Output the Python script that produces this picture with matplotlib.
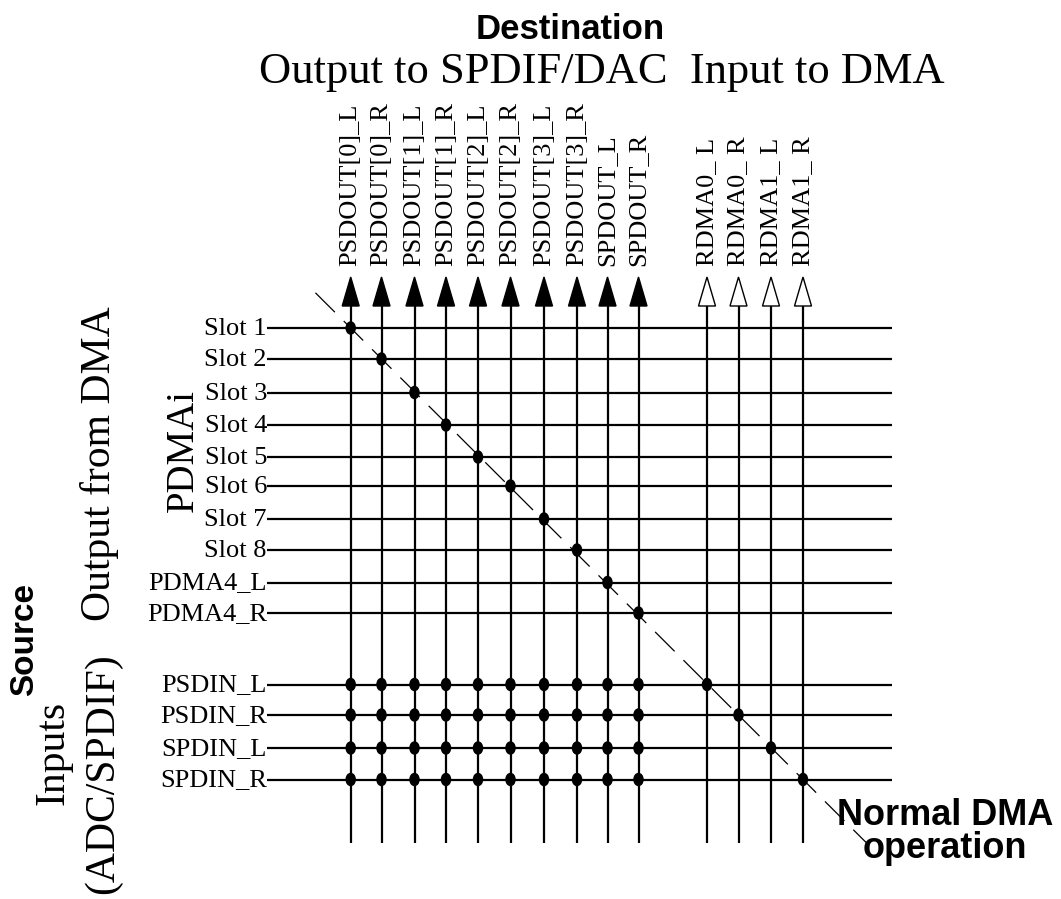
import matplotlib
matplotlib.use("Agg")
import matplotlib.pyplot as plt
from matplotlib.patches import Polygon, Ellipse

# ---------------- data ----------------
sources = ["Slot 1", "Slot 2", "Slot 3", "Slot 4", "Slot 5", "Slot 6", "Slot 7",
           "Slot 8", "PDMA4_L", "PDMA4_R", "PSDIN_L", "PSDIN_R", "SPDIN_L", "SPDIN_R"]
destinations = ["PSDOUT[0]_L", "PSDOUT[0]_R", "PSDOUT[1]_L", "PSDOUT[1]_R",
                "PSDOUT[2]_L", "PSDOUT[2]_R", "PSDOUT[3]_L", "PSDOUT[3]_R",
                "SPDOUT_L", "SPDOUT_R", "RDMA0_ L", "RDMA0_ R", "RDMA1_ L", "RDMA1_ R"]
dest_kind = ["out"] * 10 + ["dma"] * 4          # filled arrow = output, hollow = DMA
# destination indices each source can be routed to
links = [
    [0], [1], [2], [3], [4], [5], [6], [7], [8], [9],
    [0, 1, 2, 3, 4, 5, 6, 7, 8, 9, 10],
    [0, 1, 2, 3, 4, 5, 6, 7, 8, 9, 11],
    [0, 1, 2, 3, 4, 5, 6, 7, 8, 9, 12],
    [0, 1, 2, 3, 4, 5, 6, 7, 8, 9, 13],
]

# ---------------- layout (pixel space) ----------------
W, H = 1061, 899
col_x = [350.7, 381.5, 414.5, 446, 478, 510.5, 544, 577, 607.5, 638.5,
         707, 738.5, 771, 803]
row_y = [328, 359, 392.5, 425, 457, 486, 519, 550, 582.5, 613,
         684.5, 715, 748, 779.5]
h_start, h_end = 267, 892
v_top, v_bottom = 306, 843
tip_y = 277
arrow_half = 8.5
label_bottom = 266

serif = "Liberation Serif"
sans = "Liberation Sans"
LW = 1.6

fig = plt.figure(figsize=(W / 100, H / 100), dpi=100)
ax = fig.add_axes([0, 0, 1, 1])
ax.set_xlim(0, W)
ax.set_ylim(H, 0)
ax.axis("off")

# horizontal source lines and labels
for name, y in zip(sources, row_y):
    ax.plot([h_start, h_end], [y, y], color="black", lw=LW, solid_capstyle="butt")
    ax.text(h_start, y + 7, name, ha="right", va="baseline",
            fontsize=19, family=serif)

# vertical destination lines, arrowheads and labels
for name, x, kind in zip(destinations, col_x, dest_kind):
    ax.plot([x, x], [v_top, v_bottom], color="black", lw=LW, solid_capstyle="butt")
    tri = Polygon([[x, tip_y], [x - arrow_half, v_top], [x + arrow_half, v_top]],
                  closed=True, facecolor="black" if kind == "out" else "white",
                  edgecolor="black", lw=1.0, zorder=3)
    ax.add_patch(tri)
    ax.text(x, label_bottom, name, rotation=90, ha="center", va="bottom",
            fontsize=19, family=serif)

# dashed "normal DMA operation" diagonal through the diagonal connections
x0, y0 = col_x[0], row_y[0]
x1, y1 = col_x[-1], row_y[-1]
dx, dy = x1 - x0, y1 - y0
ax.plot([x0 - dx * 0.078, x1 + dx * 0.14], [y0 - dy * 0.078, y1 + dy * 0.14],
        color="black", lw=0.9, linestyle=(0, (22, 10)), zorder=2)

# connection dots
for r, cols in enumerate(links):
    for c in cols:
        ax.add_patch(Ellipse((col_x[c], row_y[r]), 10.5, 13.5,
                             facecolor="black", edgecolor="none", zorder=4))

# headings
ax.text(570, 39, "Destination", ha="center", va="baseline",
        fontsize=25, family=sans, fontweight="bold")
ax.text(601.5, 83, "Output to SPDIF/DAC  Input to DMA", ha="center",
        va="baseline", fontsize=32, family=serif)

ax.text(100, 464, "Output from DMA", rotation=90, ha="center", va="center",
        fontsize=30, family=serif)
ax.text(103, 774, "(ADC/SPDIF)", rotation=90, ha="center", va="center",
        fontsize=30, family=serif)
ax.text(53, 753, "Inputs", rotation=90, ha="center", va="center",
        fontsize=30, family=serif)
ax.text(183, 450, "PDMAi", rotation=90, ha="center", va="center",
        fontsize=28, family=serif)
ax.text(25, 640, "Source", rotation=90, ha="center", va="center",
        fontsize=24, family=sans, fontweight="bold")

ax.text(945, 832, "Normal DMA\noperation", ha="center", va="center",
        fontsize=26, family=sans, fontweight="bold", linespacing=0.95)

fig.savefig("out.png", dpi=100)
